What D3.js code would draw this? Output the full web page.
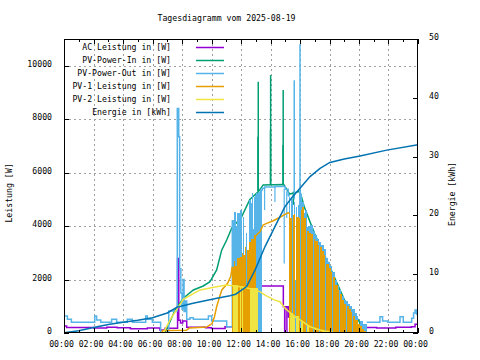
<!DOCTYPE html>
<html><head><meta charset="utf-8">
<script src="https://cdn.jsdelivr.net/npm/d3@7"></script>
<style>
body{margin:0;background:#fff}
text{font-family:"DejaVu Sans Mono",monospace;font-size:8.2px;fill:#000}
</style>
</head><body><svg id="c" width="480" height="360"></svg>
<script>
// ---- data (hour of day, value) ----
const title = "Tagesdiagramm vom 2025-08-19";
const xTickHours = [0,2,4,6,8,10,12,14,16,18,20,22,24];
const xTickLabels = ["00:00","02:00","04:00","06:00","08:00","10:00","12:00","14:00","16:00","18:00","20:00","22:00","00:00"];
const yTicks = [0,2000,4000,6000,8000,10000];
const y2Ticks = [0,10,20,30,40,50];
const seriesNames = ["AC Leistung in [W]","PV-Power-In in [W]","PV-Power-Out in [W]","PV-1 Leistung in [W]","PV-2 Leistung in [W]","Energie in [kWh]"];
const seriesColors = ["#9400d3","#009e73","#56b4e9","#e69f00","#f0e442","#0072b2"];

const acLine = [[0,260],[0.18,210],[1.0,205],[2.0,185],[2.9,215],[3.6,200],[4.5,160],[5.65,190],[6.5,110],[6.85,180],[7.7,2790],[7.78,480],[7.9,370],[8.05,450],[8.32,215],[9.6,200],[10.0,170],[10.92,235],[11.6,180],[12.0,230],[12.3,300],[12.45,1400],[12.85,1700],[13.3,1760],[14.87,980],[15.2,600],[15.3,1000],[15.45,1700],[16.05,1550],[16.2,1700],[16.28,200],[16.5,120],[16.86,610],[16.95,150],[17.25,750],[17.36,100],[18.03,500],[18.12,120],[18.6,550],[18.7,100],[19.28,450],[19.38,90],[19.95,175],[20.5,210],[21.2,190],[22.5,215],[23.55,235],[23.8,330],[24,330]];
const acDips = [[14.95,980,0],[15.05,980,100],[15.12,980,0],[15.42,1700,0]];

const pvInLine = [[0,0],[6.85,0],[7.53,860],[8.09,1300],[8.77,1610],[9.44,1760],[9.9,1920],[10.35,2360],[10.69,3100],[11.03,3480],[11.37,3920],[11.48,4000],[12.0,4300],[12.6,5000],[13.2,5300],[13.5,5540],[14.9,5560],[15.3,5200],[16.0,5300],[16.3,4700],[17.0,3700],[18.0,2500],[19.0,1250],[20.0,450],[20.3,0],[24,0]];
const pvInSpikes = [[13.15,5300,7340],[13.17,5300,9400],[14.0,5540,7600],[14.01,5540,9650],[14.85,5540,7030],[14.86,5540,9090],[15.55,4800,5290]];

const pvOutMorning = [[0,640],[0.23,510],[0.5,400],[2.08,640],[2.21,490],[2.49,400],[3.23,510],[3.57,400],[4.29,510],[4.63,400],[5.54,640],[5.65,510],[5.99,400],[6.55,0],[7.1,820],[7.68,8400],[7.78,7340],[7.84,2400],[7.92,1500],[8.0,900],[8.08,2000],[8.14,800],[8.22,1200],[8.32,510],[8.54,570],[8.77,510],[9.79,640],[10.01,450],[11.03,235],[11.41,4230]];
const pvOutFill1 = [[11.41,4230],[11.5,4530],[11.68,4000],[11.76,4500],[11.93,4600],[12.05,2700],[12.14,4350],[12.2,2700],[12.32,3730],[12.42,2700],[12.55,4975],[12.65,4850],[12.72,5225],[12.8,3900],[12.86,5100],[12.95,5150],[13.0,3900],[13.04,5225],[13.17,5290],[13.3,5350],[13.45,5350]];
const pvOutPlateau = [[13.3,5350],[13.45,5420],[13.6,5460],[14.3,5480],[15.0,5380],[15.2,5150],[15.25,5100]];
const pvOutDips = [[13.6,5460,4600],[14.3,5480,4900],[14.93,5400,2600],[15.1,5300,4300]];
const pvOutSpikes = [[15.61,5000,9460],[16.0,5300,10800]];
const pvOutFill2 = [[15.25,5100],[15.35,4000],[15.42,5000],[15.5,3500],[15.57,4900],[15.65,2000],[15.7,4700],[15.8,3000],[15.85,4800],[15.95,5300],[16.05,5200],[16.15,4900],[16.25,4500],[16.35,4600],[16.45,3950],[16.55,4000],[16.7,4050],[16.85,3800],[17.0,3650],[17.15,3500],[17.3,3400],[17.45,3300],[17.6,3150],[17.75,2800],[17.9,2650],[18.05,2500],[18.2,2300],[18.35,2000],[18.5,1750],[18.65,1600],[18.8,1400],[18.95,1250],[19.1,1200],[19.25,1100],[19.4,1000],[19.55,900],[19.7,750],[19.85,650],[19.95,0],[20.05,450],[20.3,350],[20.52,400]];
const pvOutEvening = [[20.52,400],[21.42,610],[21.6,450],[21.96,400],[22.78,610],[23.0,400],[23.57,550],[23.7,750],[23.8,860],[23.9,700],[24,750]];

const pv1Line = [[0,0],[6.62,0],[6.7,90],[8.3,100],[8.5,190],[9.67,220],[9.9,300],[10.05,370],[10.2,610],[10.35,980],[10.55,1360],[10.7,1610],[10.92,1750],[11.1,1870],[11.3,2110],[11.41,2480]];
const pv1Fill1 = [[11.41,2480],[11.5,2700],[11.6,2500],[11.7,1500],[11.75,2800],[11.9,2850],[12.05,3000],[12.15,2900],[12.25,3230],[12.35,1800],[12.42,3100],[12.55,3420],[12.7,3500],[12.85,3650],[13.05,3650]];
const pv1Mid = [[12.95,3600],[13.17,3730],[13.29,3790],[13.5,4040],[13.74,4100],[14.19,4200],[14.64,4330],[14.98,4440],[15.2,4500],[15.27,4480]];
const pv1Fill2 = [[15.27,4480],[15.35,4300],[15.45,0],[15.52,4400],[15.6,4450],[15.68,0],[15.75,4350],[15.9,4300],[15.98,0],[16.05,4600],[16.15,4700],[16.3,4300],[16.4,0],[16.47,3800],[16.6,3750],[16.75,3700],[16.85,0],[16.92,3500],[17.05,3450],[17.2,3300],[17.3,0],[17.37,3200],[17.5,3050],[17.65,2900],[17.72,0],[17.79,2600],[17.95,2450],[18.1,2300],[18.2,0],[18.27,2100],[18.4,1800],[18.55,1600],[18.65,0],[18.72,1450],[18.85,1250],[19.0,1100],[19.1,0],[19.17,1000],[19.3,900],[19.45,800],[19.55,0],[19.62,650],[19.75,500],[19.9,350],[20.05,250],[20.2,150],[20.35,60],[20.5,0]];

const pv2Line = [[0,0],[6.73,0],[7.19,490],[8.09,1260],[9.22,1610],[10.35,1730],[11.03,1800],[11.6,1760],[12.3,1700],[12.95,1610],[13.3,1540],[13.63,1420],[14.3,1230],[14.64,1170],[15.0,920],[15.32,760],[15.66,610],[16.0,490],[16.68,235],[17.36,110],[18.0,40],[18.5,0],[24,0]];
const pv2Fill = [[11.43,1780],[11.82,0],[11.93,1770],[11.98,0],[12.09,1750],[12.14,0],[12.6,1680],[13.15,0],[13.33,1540],[13.38,0],[15.32,760],[15.5,0],[15.55,680],[15.65,0],[15.7,620],[15.9,0],[16.1,450],[16.2,0],[16.5,300],[16.6,0],[17.0,180],[17.1,0],[17.5,100],[17.6,0]];

const energyLine = [[0,0.05],[1,0.4],[2,0.94],[3,1.45],[4,1.82],[5,2.16],[6,2.6],[7,3.4],[7.66,4.37],[8.75,5.05],[10.37,5.9],[11.25,6.35],[11.64,6.6],[12.38,7.9],[12.95,10.7],[13.63,14.7],[14.3,18.1],[14.98,21.5],[15.44,23.0],[16,24.6],[16.68,26.6],[17.36,28.0],[18.03,29.0],[19,29.6],[20.07,30.1],[21.88,31.1],[24,32.0]];

// ---- layout ----
const L=64,R=418,T=39,B=333;
const LW=1.5;
const svg=d3.select("#c");
const x=d3.scaleLinear().domain([0,24]).range([L,R]);
const y=d3.scaleLinear().domain([0,11000]).range([B,T]);
const y2=d3.scaleLinear().domain([0,50]).range([B,T]);

svg.append("text").attr("x",226.5).attr("y",21).attr("text-anchor","middle").text(title);

svg.append("defs").append("clipPath").attr("id","clip").append("rect")
  .attr("x",L).attr("y",T).attr("width",R-L).attr("height",B-T);

// grid
const grid=svg.append("g").attr("stroke","#a0a0a0").attr("stroke-width",1).attr("stroke-dasharray","2,3").attr("shape-rendering","crispEdges");
xTickHours.filter(h=>h>0&&h<24).forEach(h=>grid.append("line").attr("x1",Math.round(x(h))+0.5).attr("x2",Math.round(x(h))+0.5).attr("y1",T).attr("y2",B));
yTicks.filter(v=>v>0).forEach(v=>grid.append("line").attr("y1",Math.round(y(v))+0.5).attr("y2",Math.round(y(v))+0.5).attr("x1",L).attr("x2",R));

const plot=svg.append("g").attr("clip-path","url(#clip)");
function line(data,color,ys,curve){
  plot.append("path").datum(data).attr("fill","none").attr("stroke",color).attr("stroke-width",LW)
   .attr("stroke-linejoin","miter")
   .attr("d",d3.line().x(d=>x(d[0])).y(d=>ys(d[1])).curve(curve));
}
function fill(data,color){
  plot.append("path").datum(data).attr("fill",color).attr("stroke","none").attr("shape-rendering","crispEdges")
   .attr("d",d3.area().x(d=>x(d[0])).y0(y(0)).y1(d=>y(d[1])).curve(d3.curveStepAfter));
}
function spikes(data,color,w){
  plot.append("g").selectAll("line").data(data).join("line")
   .attr("x1",d=>x(d[0])).attr("x2",d=>x(d[0])).attr("y1",d=>y(d[1])).attr("y2",d=>y(d[2]))
   .attr("stroke",color).attr("stroke-width",w||1.5);
}
const [cAC,cIn,cOut,cP1,cP2,cE]=seriesColors;
// AC
line(acLine,cAC,y,d3.curveStepAfter);
spikes(acDips,cAC,1.2);
// PV in
line(pvInLine,cIn,y,d3.curveLinear);
spikes(pvInSpikes,cIn,1.5);
// PV out
line(pvOutMorning,cOut,y,d3.curveStepAfter);
fill(pvOutFill1,cOut);
line(pvOutPlateau,cOut,y,d3.curveStepAfter);
spikes(pvOutDips,cOut,1.2);
fill(pvOutFill2,cOut);
spikes(pvOutSpikes,cOut,1.5);
line(pvOutEvening,cOut,y,d3.curveStepAfter);
// PV-1
line(pv1Line,cP1,y,d3.curveLinear);
fill(pv1Fill1,cP1);
line(pv1Mid,cP1,y,d3.curveLinear);
fill(pv1Fill2,cP1);
// PV-2
fill(pv2Fill,cP2);
line(pv2Line,cP2,y,d3.curveLinear);
// Energy
line(energyLine,cE,y2,d3.curveLinear);

// frame & ticks
const ax=svg.append("g").attr("stroke","#000").attr("stroke-width",1).attr("shape-rendering","crispEdges");
ax.append("rect").attr("x",L+0.5).attr("y",T+0.5).attr("width",R-L-1).attr("height",B-T-1).attr("fill","none");
for(let h=0;h<=24;h++){
  const len = h%2===0?5:3, xx=Math.round(x(h))+0.5;
  ax.append("line").attr("x1",xx).attr("x2",xx).attr("y1",B).attr("y2",B-len);
  ax.append("line").attr("x1",xx).attr("x2",xx).attr("y1",T).attr("y2",T+len);
}
yTicks.forEach(v=>{const yy=Math.round(y(v))+0.5; ax.append("line").attr("x1",L).attr("x2",L+5).attr("y1",yy).attr("y2",yy);});
y2Ticks.forEach(v=>{const yy=Math.round(y2(v))+0.5; ax.append("line").attr("x1",R-5).attr("x2",R).attr("y1",yy).attr("y2",yy);});

// tick labels
xTickHours.forEach((h,i)=>svg.append("text").attr("x",x(h)-2.5).attr("y",347).attr("text-anchor","middle").text(xTickLabels[i]));
yTicks.forEach(v=>svg.append("text").attr("x",52).attr("y",y(v)+1).attr("text-anchor","end").text(d3.format("d")(v)));
y2Ticks.forEach(v=>svg.append("text").attr("x",429).attr("y",y2(v)+1).attr("text-anchor","start").text(v));

svg.append("text").attr("transform","translate(12,193) rotate(-90)").attr("text-anchor","middle").text("Leistung [W]");
svg.append("text").attr("transform","translate(455,194) rotate(-90)").attr("text-anchor","middle").text("Energie [kWh]");

// legend
const rowsY=[46.7,60,73.3,86.3,99.3,112];
seriesNames.forEach((n,i)=>{
  svg.append("text").attr("x",171).attr("y",rowsY[i]+3).attr("text-anchor","end").text(n);
  svg.append("line").attr("x1",196).attr("x2",224).attr("y1",Math.round(rowsY[i])+0.5).attr("y2",Math.round(rowsY[i])+0.5)
    .attr("stroke",seriesColors[i]).attr("stroke-width",1.5);
});
</script></body></html>
